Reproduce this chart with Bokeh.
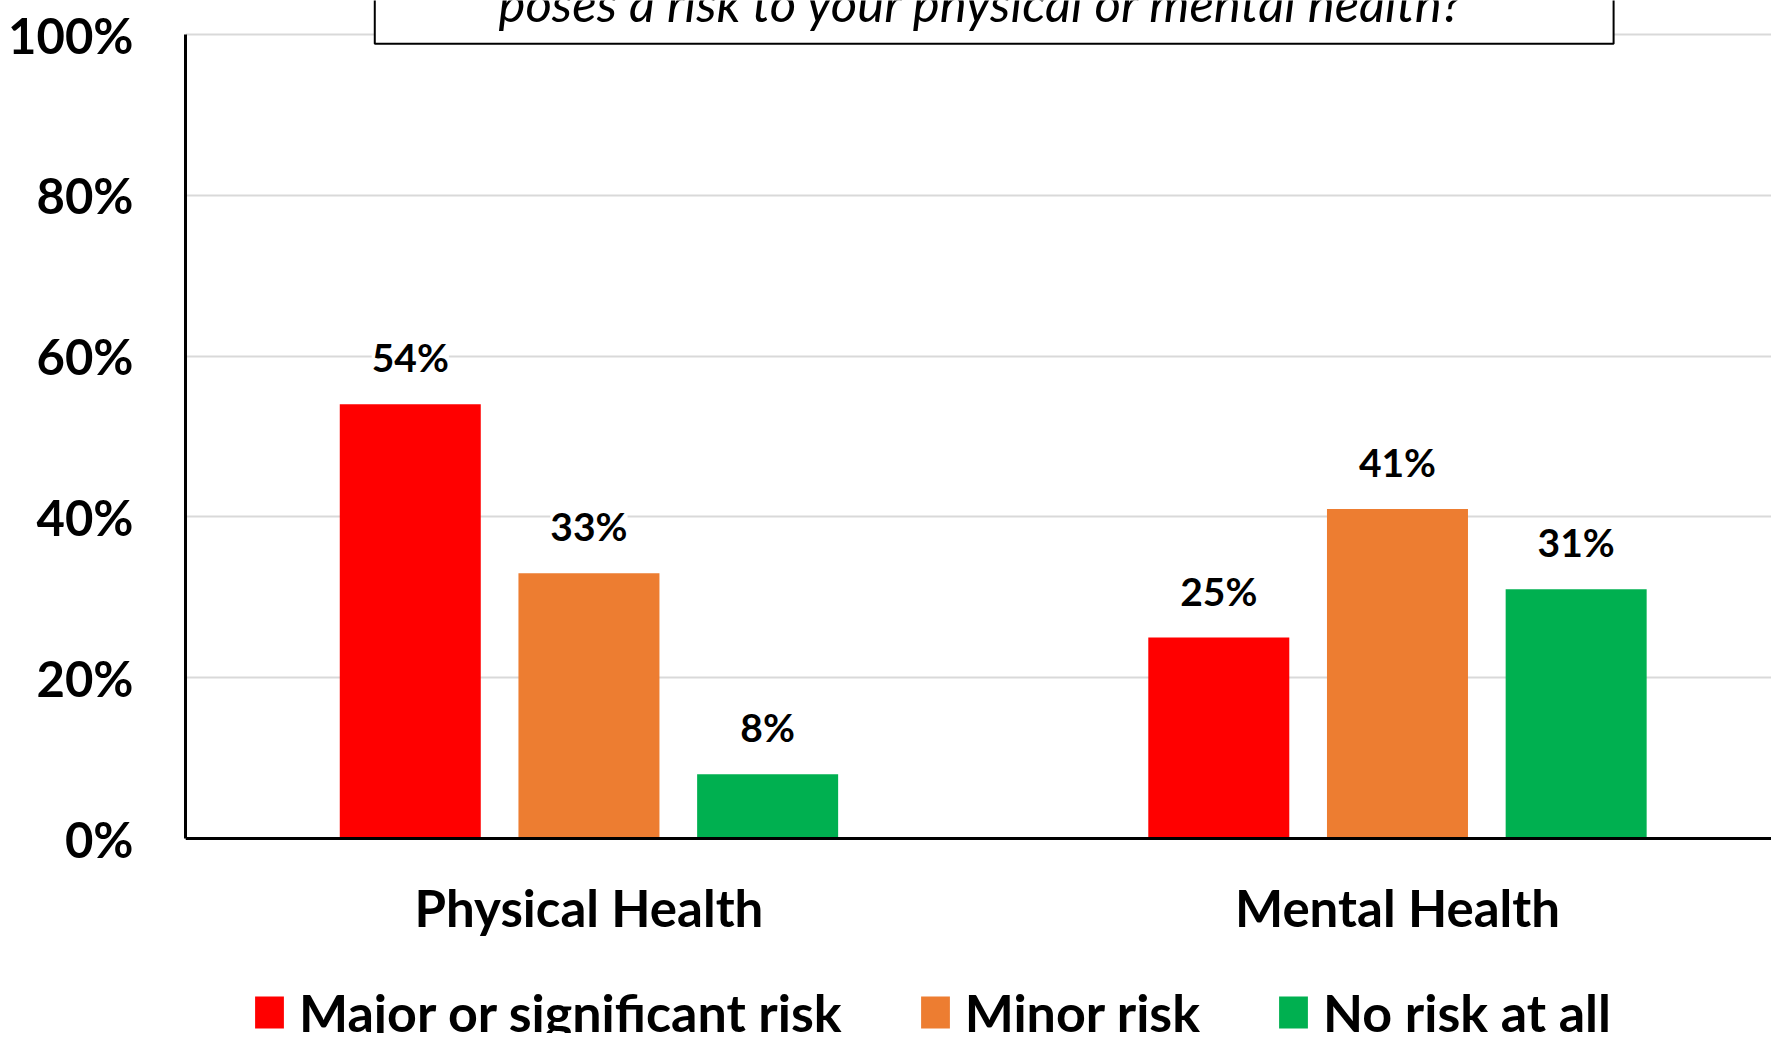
from bokeh.plotting import figure
from bokeh.models import (ColumnDataSource, Range1d, FixedTicker, LabelSet, Label,
                          Legend, LegendItem, Span)
from bokeh.core.properties import value
from bokeh.embed import file_html
from bokeh.resources import INLINE

# ---------------- data ----------------
categories = ["Physical Health", "Mental Health"]
series_names = ["Major or significant risk", "Minor risk", "No risk at all"]
major_risk = [54, 25]
minor_risk = [33, 41]
no_risk = [8, 31]
y_ticks = [0, 20, 40, 60, 80, 100]
y_tick_labels = ["0%", "20%", "40%", "60%", "80%", "100%"]
title_text = "poses a risk to your physical or mental health?"

# ---------------- style ----------------
series_values = [major_risk, minor_risk, no_risk]
colors = ["#FF0000", "#ED7D31", "#00B050"]
offsets = [-0.221, 0.0, 0.221]
bar_width = 0.1744
FONT = "Lato"

W, H = 1771, 1033
p = figure(width=W, height=H, output_backend="svg", toolbar_location=None,
           x_axis_location=None,
           x_range=Range1d(-0.499, 1.4626), y_range=Range1d(-24.25, 104.23),
           min_border_left=185, min_border_right=0, min_border_top=0,
           min_border_bottom=0)
p.outline_line_color = None
p.background_fill_color = "white"
p.border_fill_color = "white"

# grid
p.xgrid.visible = False
p.ygrid.ticker = FixedTicker(ticks=y_ticks)
p.ygrid.grid_line_color = "#D9D9D9"
p.ygrid.grid_line_width = 2

# y axis
p.yaxis.ticker = FixedTicker(ticks=y_ticks)
p.yaxis.major_label_overrides = {t: l for t, l in zip(y_ticks, y_tick_labels)}
p.yaxis.bounds = (0, 100)
p.yaxis.axis_line_width = 3
p.yaxis.axis_line_color = "black"
p.yaxis.major_tick_in = 0
p.yaxis.major_tick_out = 0
p.yaxis.minor_tick_in = 0
p.yaxis.minor_tick_out = 0
p.yaxis.major_label_standoff = 52
p.yaxis.major_label_text_font = FONT
p.yaxis.major_label_text_font_style = "bold"
p.yaxis.major_label_text_font_size = "49px"
p.yaxis.major_label_text_color = "black"

# x axis line at 0 and category labels
p.add_layout(Span(location=0, dimension="width", line_color="black", line_width=3))
cat_src = ColumnDataSource(dict(x=list(range(len(categories))),
                                y=[-8.6] * len(categories), text=categories))
p.text(x="x", y="y", text="text", source=cat_src, text_font=value(FONT),
       text_font_style="bold", text_font_size="51px", text_color="black",
       text_align="center", text_baseline="alphabetic")

# title box (partly cut at top, as in the reference)
p.quad(left=[-0.2649], right=[1.2673], bottom=[98.84], top=[125],
       fill_color="white", line_color="black", line_width=2)
p.add_layout(Label(x=0.486, y=103.95, text=title_text, text_font=FONT,
                   text_font_style="italic", text_font_size="51px",
                   text_align="center", text_baseline="alphabetic",
                   text_color="black"))

# bars
renderers = []
for name, vals, col, off in zip(series_names, series_values, colors, offsets):
    src = ColumnDataSource(dict(
        x=[i + off for i in range(len(categories))],
        top=vals,
        label=[f"{v}%" for v in vals],
    ))
    r = p.vbar(x="x", top="top", bottom=0, width=bar_width, source=src,
               fill_color=col, line_color=None)
    renderers.append(r)
    ls_kwargs = dict(x="x", y="top", text="label", source=src, y_offset=47,
                     text_align="center", text_baseline="middle",
                     text_font=value(FONT), text_font_style="bold",
                     text_font_size="39px", text_color="black",
                     background_fill_color="white")
    if "padding" in LabelSet.properties():
        ls_kwargs["padding"] = 14
    p.add_layout(LabelSet(**ls_kwargs))

legend = Legend(items=[LegendItem(label=n, renderers=[r])
                       for n, r in zip(series_names, renderers)],
                orientation="horizontal", location=(66, -10),
                label_text_font=FONT, label_text_font_style="bold",
                label_text_font_size="52px", label_text_color="black",
                glyph_width=36, glyph_height=40, label_standoff=12,
                spacing=75, padding=0, margin=0,
                border_line_color=None, background_fill_alpha=0)
p.add_layout(legend)

open("out.html", "w").write(file_html(p, INLINE))
